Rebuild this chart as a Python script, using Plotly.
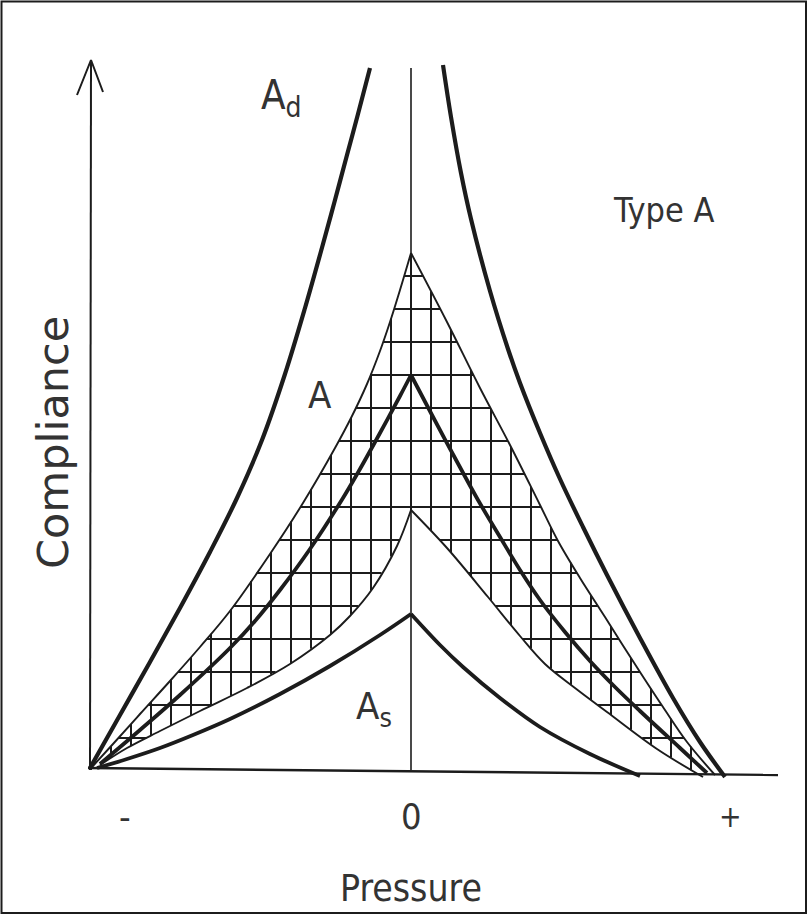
import numpy as np
import plotly.graph_objects as go

# ---------------- data ----------------
# pressure (0 = ambient, - / + to either side), compliance (0 = baseline)
AD_LEFT_P = [-3.21, -2.91, -2.61, -2.31, -2.01, -1.74, -1.49, -1.26, -1.06, -0.88, -0.76, -0.64, -0.53, -0.41]
AD_LEFT_C = [0.02, 0.55, 1.08, 1.62, 2.18, 2.72, 3.30, 3.96, 4.62, 5.26, 5.70, 6.15, 6.56, 7.02]
AD_RIGHT_P = [0.32, 0.40, 0.50, 0.60, 0.79, 0.97, 1.09, 1.29, 1.49, 1.72, 1.96, 2.29, 2.62, 2.89, 3.14]
AD_RIGHT_C = [7.05, 6.53, 5.97, 5.51, 4.79, 4.21, 3.87, 3.37, 2.91, 2.43, 1.95, 1.32, 0.72, 0.28, -0.07]

# upper edge of the hatched (normal, type A) region
UP_LEFT_P = [0.00, -0.11, -0.21, -0.31, -0.44, -0.59, -0.76, -1.08, -1.41, -1.81, -2.11, -2.41, -2.71, -2.98, -3.19]
UP_LEFT_C = [5.17, 4.80, 4.48, 4.19, 3.86, 3.54, 3.22, 2.67, 2.16, 1.59, 1.23, 0.89, 0.56, 0.26, 0.03]
UP_RIGHT_P = [0.00, 0.36, 0.69, 0.99, 1.29, 1.47, 1.69, 1.94, 2.11, 2.29, 2.52, 2.76, 3.04]
UP_RIGHT_C = [5.17, 4.48, 3.82, 3.25, 2.65, 2.29, 1.92, 1.53, 1.26, 0.98, 0.63, 0.28, -0.05]

# lower edge of the hatched region
LO_LEFT_P = [0.00, -0.14, -0.38, -0.61, -0.81, -1.21, -1.64, -2.11, -2.51, -2.84, -3.11]
LO_LEFT_C = [2.60, 2.24, 1.82, 1.54, 1.35, 1.06, 0.82, 0.59, 0.39, 0.22, 0.05]
LO_RIGHT_P = [0.00, 0.36, 0.77, 1.09, 1.34, 1.64, 1.96, 2.46, 2.92]
LO_RIGHT_C = [2.60, 2.22, 1.73, 1.34, 1.06, 0.82, 0.58, 0.21, -0.07]

# typical type A curve (thick)
A_LEFT_P = [0.00, -0.11, -0.31, -0.51, -0.68, -1.01, -1.31, -1.56, -1.81, -2.31, -2.71, -3.11]
A_LEFT_C = [3.95, 3.74, 3.37, 3.01, 2.72, 2.21, 1.80, 1.49, 1.22, 0.75, 0.40, 0.06]
A_RIGHT_P = [0.00, 0.21, 0.44, 0.67, 0.89, 1.09, 1.29, 1.54, 1.79, 2.04, 2.29, 2.69, 2.96]
A_RIGHT_C = [3.95, 3.55, 3.12, 2.70, 2.33, 2.00, 1.70, 1.38, 1.09, 0.83, 0.59, 0.22, -0.03]

# type As curve (thick)
AS_LEFT_P = [0.00, -0.31, -0.81, -1.31, -1.81, -2.18, -2.51, -2.84, -3.14]
AS_LEFT_C = [1.56, 1.35, 1.04, 0.76, 0.51, 0.35, 0.22, 0.11, 0.02]
AS_RIGHT_P = [0.00, 0.29, 0.52, 0.89, 1.29, 1.79, 2.29]
AS_RIGHT_C = [1.56, 1.25, 1.03, 0.72, 0.43, 0.16, -0.06]

# axes drawn as in the sketch
Y_AXIS_P = [-3.21, -3.20]
Y_AXIS_C = [0.00, 7.10]
ARROW_P = [-3.34, -3.20, -3.08]
ARROW_C = [6.75, 7.10, 6.78]
X_AXIS_P = [-3.23, 3.67]
X_AXIS_C = [0.02, -0.05]
ZERO_LINE_C = [0.00, 7.02]

TICK_VALS = [-2.86, 0.0, 3.19]
TICK_TEXT = ["-", "0", "+"]
TICK_SIZES = [36, 36, 30]
TICK_C = -0.46

LABELS = [  # text, p, c, size
    ("A<sub>d</sub>", -1.30, 6.72, 40),
    ("Type A", 2.52, 5.60, 34),
    ("A", -0.91, 3.75, 38),
    ("A<sub>s</sub>", -0.37, 0.62, 38),
]
X_TITLE = ("Pressure", 0.0, -1.18)
Y_TITLE = ("Compliance", -3.58, 3.27)

# ---------------- styling ----------------
INK = "#1c1c1c"
TEXT_INK = "#333333"
FONT = "DejaVu Sans Condensed, Liberation Sans Narrow, Liberation Sans, sans-serif"
HATCH_DY = 0.33   # vertical spacing of horizontal hatch lines
HATCH_DX = 0.20   # horizontal spacing of vertical hatch lines
HATCH_TOP = 4.94
SMOOTH = 1.0

fig = go.Figure()


def combine(lp, lc, rp, rc):
    P = np.concatenate([np.asarray(lp)[::-1], np.asarray(rp)[1:]])
    C = np.concatenate([np.asarray(lc)[::-1], np.asarray(rc)[1:]])
    o = np.argsort(P)
    return P[o], C[o]


# ---- cross hatching clipped to the region between the two edges ----
up_P, up_C = combine(UP_LEFT_P, UP_LEFT_C, UP_RIGHT_P, UP_RIGHT_C)
lo_P, lo_C = combine(LO_LEFT_P, LO_LEFT_C, LO_RIGHT_P, LO_RIGHT_C)
grid = np.linspace(up_P.min(), up_P.max(), 6001)
U = np.interp(grid, up_P, up_C, left=np.nan, right=np.nan)
L = np.interp(grid, lo_P, lo_C, left=np.nan, right=np.nan)
L = np.where(np.isnan(L), 0.0, L)

hx, hy = [], []
level = HATCH_TOP
while level > 0.1:
    inside = (U >= level) & (L <= level)
    d = np.diff(np.concatenate([[0], inside.astype(int), [0]]))
    starts = np.where(d == 1)[0]
    ends = np.where(d == -1)[0] - 1
    for s, e in zip(starts, ends):
        hx += [grid[s], grid[e], None]
        hy += [level, level, None]
    level -= HATCH_DY

k = int(np.floor(up_P.min() / HATCH_DX))
while k * HATCH_DX <= up_P.max():
    p0 = k * HATCH_DX
    u = np.interp(p0, up_P, up_C)
    l = np.interp(p0, lo_P, lo_C, left=0.0, right=0.0)
    if u > l + 0.02:
        hx += [p0, p0, None]
        hy += [l, u, None]
    k += 1

fig.add_trace(go.Scatter(x=hx, y=hy, mode="lines", line=dict(color=INK, width=2.0),
                         hoverinfo="skip", showlegend=False))


def curve(p, c, width):
    fig.add_trace(go.Scatter(x=p, y=c, mode="lines",
                             line=dict(color=INK, width=width, shape="spline", smoothing=SMOOTH),
                             hoverinfo="skip", showlegend=False))


for p, c in [(UP_LEFT_P, UP_LEFT_C), (UP_RIGHT_P, UP_RIGHT_C),
             (LO_LEFT_P, LO_LEFT_C), (LO_RIGHT_P, LO_RIGHT_C)]:
    curve(p, c, 1.9)
for p, c in [(A_LEFT_P, A_LEFT_C), (A_RIGHT_P, A_RIGHT_C),
             (AS_LEFT_P, AS_LEFT_C), (AS_RIGHT_P, AS_RIGHT_C)]:
    curve(p, c, 3.8)
for p, c in [(AD_LEFT_P, AD_LEFT_C), (AD_RIGHT_P, AD_RIGHT_C)]:
    curve(p, c, 4.2)

# axes and the zero-pressure line
for p, c, w in [(Y_AXIS_P, Y_AXIS_C, 2.0), (ARROW_P, ARROW_C, 2.0),
                (X_AXIS_P, X_AXIS_C, 2.4), ([0.0, 0.0], ZERO_LINE_C, 1.6)]:
    fig.add_trace(go.Scatter(x=p, y=c, mode="lines", line=dict(color=INK, width=w),
                             hoverinfo="skip", showlegend=False))

# tick labels
for v, t, s in zip(TICK_VALS, TICK_TEXT, TICK_SIZES):
    fig.add_annotation(x=v, y=TICK_C, text=t, showarrow=False,
                       font=dict(family=FONT, size=s, color=TEXT_INK),
                       xanchor="center", yanchor="middle")

for t, p, c, s in LABELS:
    fig.add_annotation(x=p, y=c, text=t, showarrow=False,
                       font=dict(family=FONT, size=s, color=TEXT_INK),
                       xanchor="center", yanchor="middle")

fig.add_annotation(x=X_TITLE[1], y=X_TITLE[2], text=X_TITLE[0], showarrow=False,
                   font=dict(family=FONT, size=37, color=TEXT_INK),
                   xanchor="center", yanchor="middle")
fig.add_annotation(x=Y_TITLE[1], y=Y_TITLE[2], text=Y_TITLE[0], showarrow=False,
                   textangle=-90,
                   font=dict(family="DejaVu Sans, sans-serif", size=43, color=TEXT_INK),
                   xanchor="center", yanchor="middle")

# picture frame
fig.add_shape(type="rect", xref="paper", yref="paper",
              x0=1.5 / 808, x1=806 / 808, y0=3 / 916, y1=914.5 / 916,
              line=dict(color=INK, width=2))

fig.update_layout(
    width=808, height=916, autosize=False,
    margin=dict(l=0, r=0, t=0, b=0),
    paper_bgcolor="white", plot_bgcolor="white",
    xaxis=dict(range=[-4.11, 3.97], visible=False, fixedrange=True),
    yaxis=dict(range=[-1.46, 7.70], visible=False, fixedrange=True),
    showlegend=False,
)

fig.write_html("out.html", config={"displayModeBar": False},
               post_script="document.body.style.margin='0';document.body.style.overflow='hidden';")
